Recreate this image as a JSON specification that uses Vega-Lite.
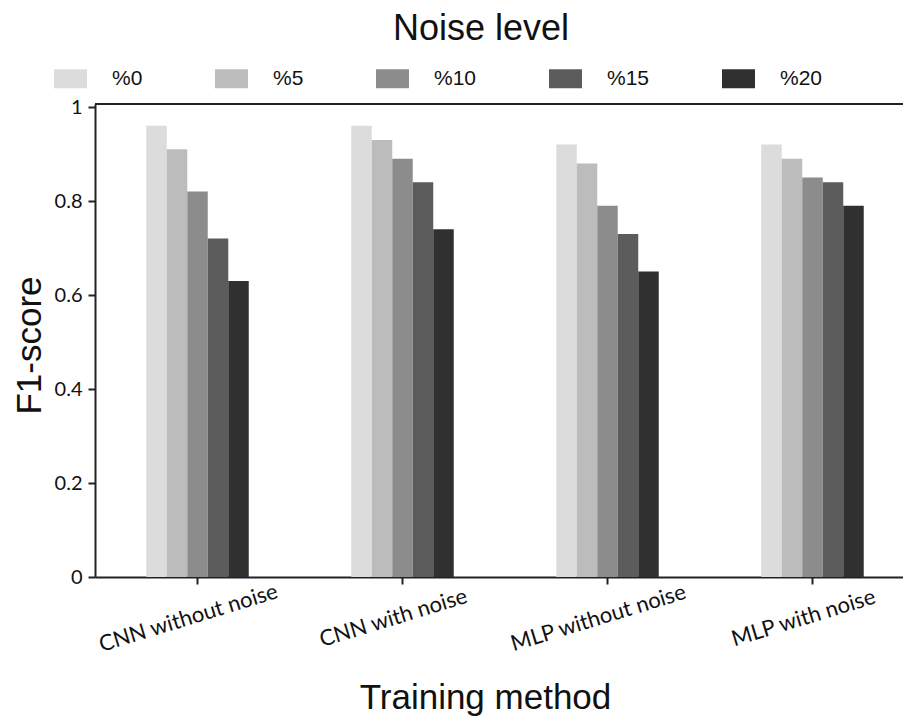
{
  "$schema": "https://vega.github.io/schema/vega-lite/v6.json",
  "autosize": {"type": "none"},
  "padding": {"left": 95, "top": 104, "right": 0, "bottom": 139},
  "width": 808,
  "height": 473,
  "background": "white",
  "config": {"view": {"stroke": null}, "font": "Liberation Sans"},
  "title": {"text": "Noise level", "fontSize": 36, "font": "Liberation Sans", "fontWeight": "normal", "color": "#111", "anchor": "middle", "frame": "group", "dx": -18, "offset": 14},
  "data": {"values": [
    {"method": "CNN without noise", "level": "%0", "f1": 0.96},
    {"method": "CNN without noise", "level": "%5", "f1": 0.91},
    {"method": "CNN without noise", "level": "%10", "f1": 0.82},
    {"method": "CNN without noise", "level": "%15", "f1": 0.72},
    {"method": "CNN without noise", "level": "%20", "f1": 0.63},
    {"method": "CNN with noise", "level": "%0", "f1": 0.96},
    {"method": "CNN with noise", "level": "%5", "f1": 0.93},
    {"method": "CNN with noise", "level": "%10", "f1": 0.89},
    {"method": "CNN with noise", "level": "%15", "f1": 0.84},
    {"method": "CNN with noise", "level": "%20", "f1": 0.74},
    {"method": "MLP without noise", "level": "%0", "f1": 0.92},
    {"method": "MLP without noise", "level": "%5", "f1": 0.88},
    {"method": "MLP without noise", "level": "%10", "f1": 0.79},
    {"method": "MLP without noise", "level": "%15", "f1": 0.73},
    {"method": "MLP without noise", "level": "%20", "f1": 0.65},
    {"method": "MLP with noise", "level": "%0", "f1": 0.92},
    {"method": "MLP with noise", "level": "%5", "f1": 0.89},
    {"method": "MLP with noise", "level": "%10", "f1": 0.85},
    {"method": "MLP with noise", "level": "%15", "f1": 0.84},
    {"method": "MLP with noise", "level": "%20", "f1": 0.79}
  ]},
  "layer": [
    {
      "mark": {"type": "bar"},
      "encoding": {
        "x": {
          "field": "method", "type": "nominal",
          "sort": ["CNN without noise", "CNN with noise", "MLP without noise", "MLP with noise"],
          "scale": {"range": [0, 820], "paddingInner": 0.5, "paddingOuter": 0.25},
          "axis": {
            "title": "Training method",
            "labelAngle": -17, "labelAlign": "center", "labelBaseline": "top", "labelPadding": 24,
            "labelOffset": -12, "labelLimit": 0,
            "labelFont": "Lato", "labelFontSize": 22, "labelColor": "#111",
            "tickSize": 7, "tickWidth": 2, "tickColor": "#222",
            "domainWidth": 2, "domainColor": "#222",
            "titleFont": "Liberation Sans", "titleFontSize": 35, "titleFontWeight": "normal", "titleColor": "#111",
            "titleX": 390, "titleY": 131, "titleBaseline": "alphabetic", "titleAlign": "center"
          }
        },
        "xOffset": {
          "field": "level", "type": "nominal",
          "sort": ["%0", "%5", "%10", "%15", "%20"],
          "scale": {"paddingInner": 0, "paddingOuter": 0}
        },
        "y": {
          "field": "f1", "type": "quantitative",
          "scale": {"domain": [0, 1.0064], "nice": false},
          "axis": {
            "title": "F1-score",
            "values": [0, 0.2, 0.4, 0.6, 0.8, 1], "format": ".1~f", "grid": false,
            "labelFont": "Lato", "labelFontSize": 20, "labelColor": "#111", "labelPadding": 6,
            "tickSize": 7, "tickWidth": 2, "tickColor": "#222",
            "domainWidth": 2, "domainColor": "#222",
            "titleFont": "Liberation Sans", "titleFontSize": 35, "titleFontWeight": "normal", "titleColor": "#111",
            "titleX": -55, "titleY": 241, "titleBaseline": "alphabetic", "titleAlign": "center"
          }
        },
        "color": {
          "field": "level", "type": "nominal",
          "sort": ["%0", "%5", "%10", "%15", "%20"],
          "scale": {"domain": ["%0", "%5", "%10", "%15", "%20"], "range": ["#dcdcdc", "#bcbcbc", "#8c8c8c", "#5c5c5c", "#303030"]},
          "legend": {
            "title": null, "orient": "none", "legendX": -41, "legendY": -42,
            "direction": "horizontal", "columns": 5, "padding": 0,
            "symbolType": "M-1,-0.576H1V0.576H-1Z", "symbolSize": 1089, "symbolStrokeWidth": 0, "symbolOpacity": 1,
            "labelFont": "Liberation Sans", "labelFontSize": 21, "labelColor": "#111",
            "labelOffset": 25, "columnPadding": 72
          }
        }
      }
    },
    {
      "mark": {"type": "rule", "color": "#222", "strokeWidth": 2},
      "encoding": {"y": {"datum": 1.0064}}
    }
  ]
}
